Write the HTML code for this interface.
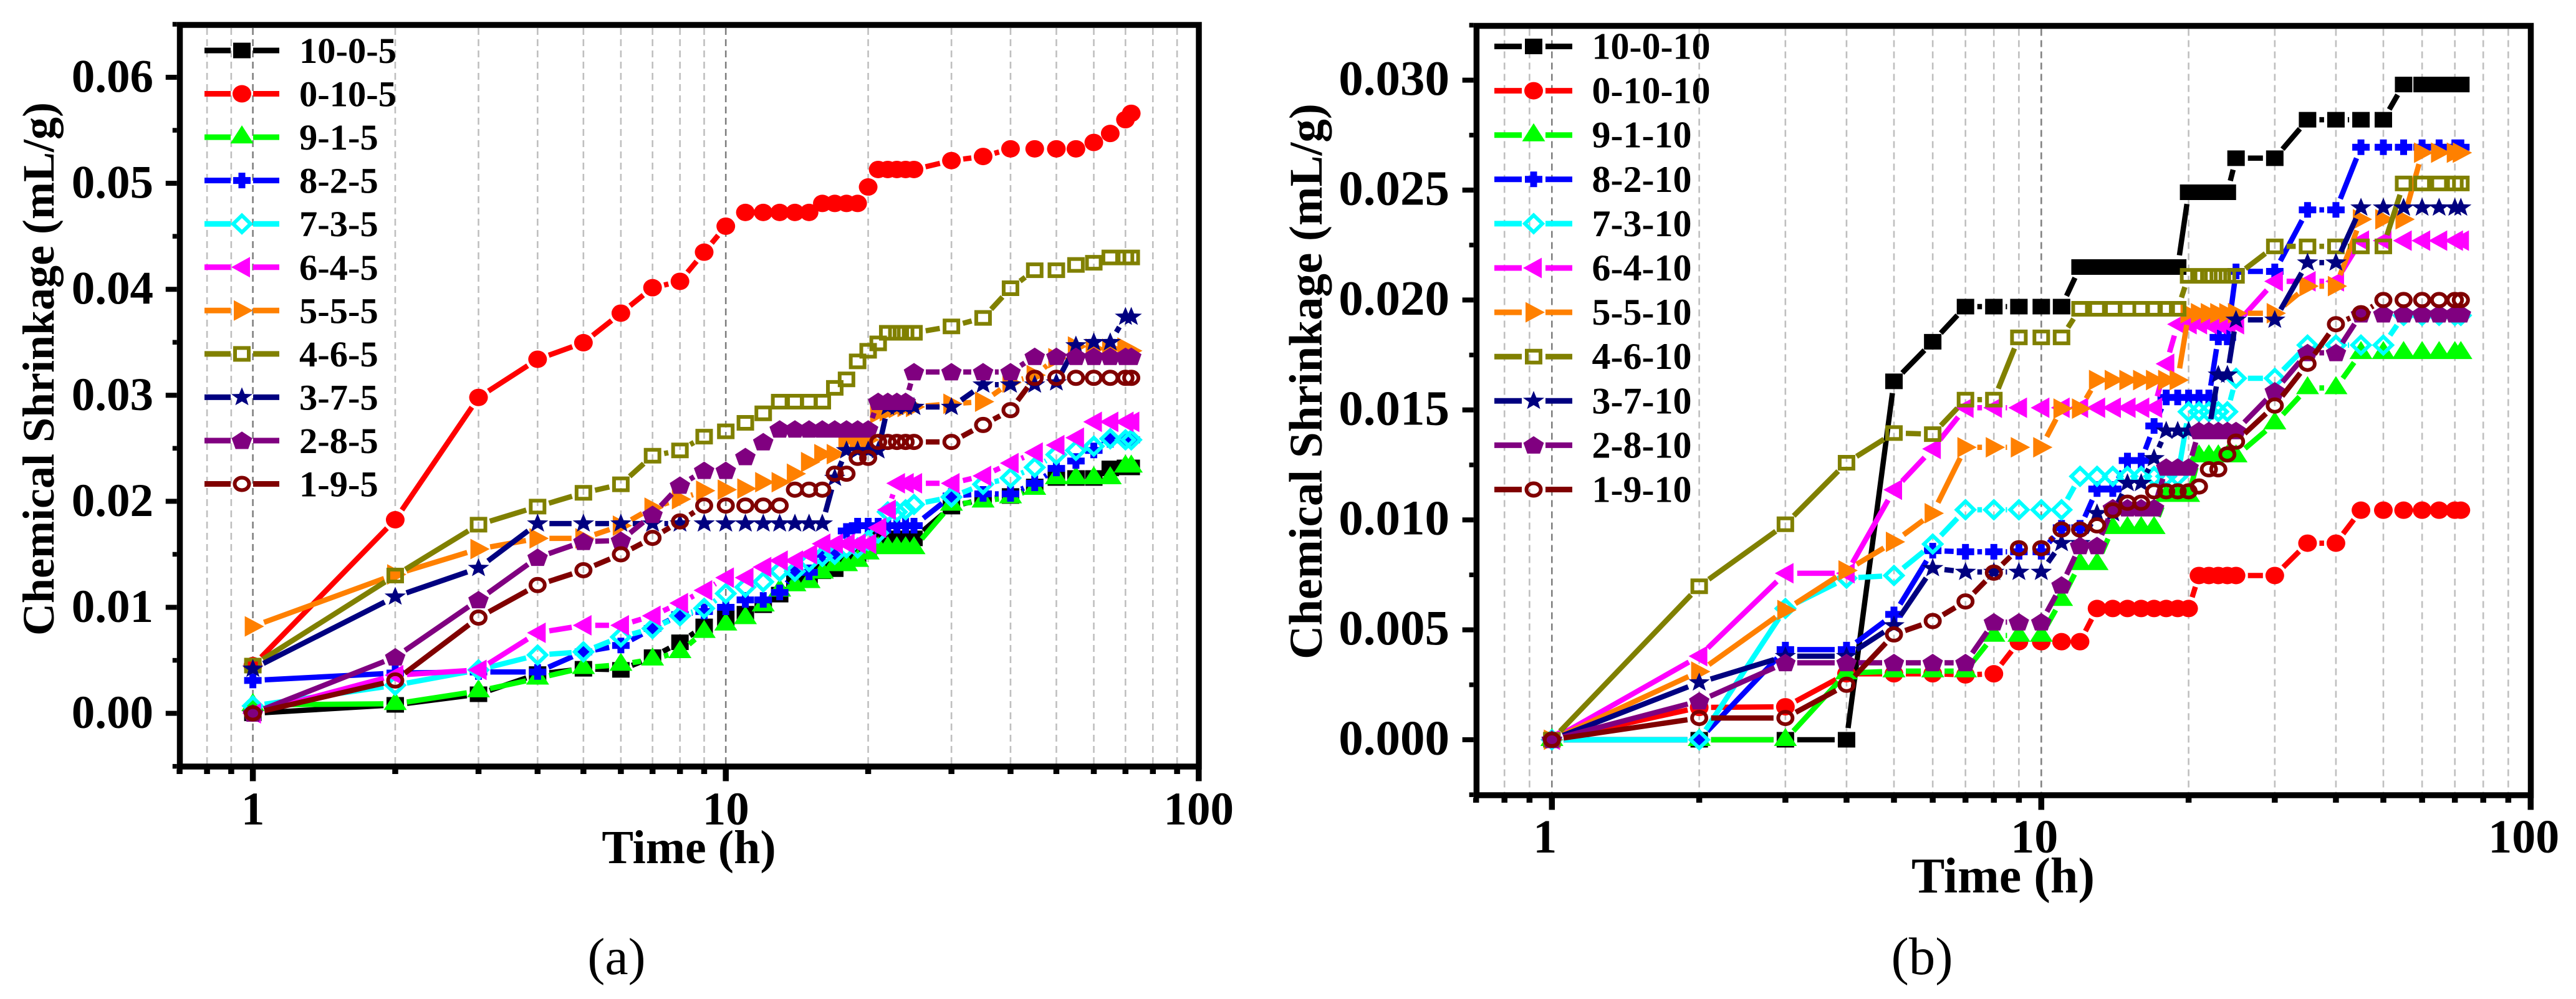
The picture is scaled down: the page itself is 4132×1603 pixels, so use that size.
<!DOCTYPE html>
<html lang="en">
<head>
<meta charset="utf-8">
<title>Chemical Shrinkage Charts</title>
<style>
html,body{margin:0;padding:0;background:#fff;}
svg{display:block;}
text{font-family:"Liberation Serif","Times New Roman",serif;fill:#000;}
.b{font-weight:bold;}
</style>
</head>
<body>
<svg id="figure" xmlns="http://www.w3.org/2000/svg" width="4132" height="1603" viewBox="0 0 4132 1603"></svg>
<script>
/* ---------- shared sampling times (h) ---------- */
const times = [1,2,3,4,5,6,7,8,9,10,11,12,13,14,15,16,17,18,19,20,21,22,23,24,25,30,35,40,45,50,55,60,65,70,72];

/* ---------- panel (a) series values (mL/g) ---------- */
const a_10_0_5 = [0,.0008,.0018,.0037,.0042,.0041,.0053,.0067,.0082,.0090,.0094,.0102,.0112,.0126,.0126,.0134,.0136,.0142,.0150,.0155,.0165,.0165,.0165,.0165,.0165,.0195,.0202,.0205,.0214,.0222,.0222,.0222,.0231,.0232,.0232];
const a_0_10_5 = [.0045,.01826,.0298,.0334,.03496,.03775,.04015,.04075,.0435,.04595,.04725,.04725,.04725,.04725,.04725,.0481,.0481,.0481,.0481,.04965,.0513,.0513,.0513,.0513,.0513,.05214,.05253,.05325,.05325,.05325,.05325,.05385,.0547,.056,.0566];
const a_9_1_5 = [.0008,.0009,.0021,.0033,.0043,.0046,.0051,.0058,.0077,.0084,.009,.0102,.0116,.0121,.0124,.0133,.014,.014,.0144,.0151,.0156,.0156,.0156,.0156,.0156,.0197,.02,.0204,.0212,.0222,.0222,.0222,.0222,.0233,.0233];
const a_8_2_5 = [.0031,.0038,.0039,.0039,.0058,.0064,.008,.0093,.0096,.01,.0107,.0107,.0114,.0133,.0133,.015,.015,.0172,.0177,.0177,.0177,.0177,.0177,.0177,.0177,.0205,.0207,.0207,.0217,.0231,.0238,.0248,.0258,.0258,.0258];
const a_7_3_5 = [.0007,.00265,.0041,.0055,.0058,.0072,.008,.0092,.0099,.0113,.0119,.0124,.0134,.0134,.0143,.0148,.015,.0156,.0156,.0163,.017,.019,.019,.0192,.0197,.0204,.0216,.0222,.0232,.0244,.0248,.0252,.0259,.0258,.0258];
const a_6_4_5 = [0,.0036,.0041,.0076,.0083,.0083,.0092,.0104,.0116,.0128,.0128,.0138,.0144,.0144,.015,.016,.016,.016,.016,.016,.0175,.0192,.0217,.0217,.0217,.0217,.0224,.0236,.0246,.0253,.026,.0275,.0275,.0275,.0275];
const a_5_5_5 = [.0082,.0131,.0155,.0165,.0165,.0177,.0194,.0202,.021,.0211,.0212,.0218,.0218,.0226,.0237,.02445,.02445,.0258,.0258,.0258,.0283,.0285,.0288,.0289,.0289,.0292,.0294,.0312,.0319,.0335,.0346,.0344,.0344,.0345,.0342];
const a_4_6_5 = [.0045,.013,.0178,.0195,.0208,.0216,.0243,.0248,.0261,.0266,.0274,.0283,.0294,.0294,.0294,.0294,.0307,.0315,.0332,.0342,.0349,.0359,.0359,.0359,.0359,.0365,.0373,.0401,.0418,.0418,.0423,.0425,.043,.043,.043];
const a_3_7_5 = [.0042,.011,.0137,.0179,.0179,.0179,.0179,.0179,.0179,.0179,.0179,.0179,.0179,.0179,.0179,.0179,.0222,.0248,.0248,.0248,.0248,.0289,.0289,.0289,.0289,.0289,.031,.031,.031,.0312,.0347,.035,.035,.0374,.0374];
const a_2_8_5 = [0,.0053,.0107,.0147,.0162,.0163,.01875,.0215,.0229,.0229,.0242,.0256,.0268,.0268,.0268,.0268,.0268,.0268,.0268,.0268,.0294,.0294,.0294,.0294,.0322,.0322,.0322,.0322,.03365,.03365,.03365,.03365,.03365,.03365,.03365];
const a_1_9_5 = [0,.0031,.00903,.0121,.0135,.015,.01655,.0181,.0196,.0196,.0196,.0196,.0196,.0211,.0211,.0211,.0226,.0226,.0241,.0241,.0256,.0256,.0256,.0256,.0256,.0256,.0272,.0286,.03165,.03165,.03165,.03165,.03165,.03165,.03165];

/* ---------- panel (b) series values (mL/g) ---------- */
const b_10_0_10 = [0,0,0,0,.0163,.0181,.0197,.0197,.0197,.0197,.0197,.0215,.0215,.0215,.0215,.0215,.0215,.0215,.0215,.0249,.0249,.0249,.0249,.0249,.02645,.02645,.0282,.0282,.0282,.0282,.0298,.0298,.0298,.0298,.0298];
const b_0_10_10 = [0,.00147,.0015,.003,.003,.003,.00295,.003,.00446,.00446,.00446,.00446,.00597,.00597,.00597,.00597,.00597,.00597,.00597,.00597,.00747,.00747,.00747,.00747,.00747,.00747,.00894,.00894,.01044,.01044,.01044,.01044,.01044,.01044,.01044];
const b_9_1_10 = [0,0,0,.00303,.00312,.00312,.00312,.00474,.00474,.00474,.00637,.008,.008,.00964,.00964,.00964,.00964,.0111,.0111,.0111,.0129,.0129,.0129,.0129,.0129,.0144,.016,.016,.0176,.0176,.0176,.0176,.0176,.0176,.0176];
const b_8_2_10 = [0,0,.0041,.0041,.0057,.0086,.00855,.00855,.00855,.00855,.00964,.00964,.0114,.0114,.0127,.0127,.01427,.01557,.01557,.01557,.01557,.01557,.0183,.0183,.0213,.0213,.0241,.0241,.02695,.02695,.02695,.02695,.02695,.02695,.02695];
const b_7_3_10 = [0,0,.00597,.00735,.00747,.0089,.01046,.01046,.01046,.01046,.01046,.01198,.01198,.01198,.01198,.01198,.01198,.01198,.01198,.01492,.01492,.01492,.01492,.01492,.01644,.01644,.01795,.01795,.01795,.01795,.0193,.0193,.0193,.0193,.0193];
const b_6_4_10 = [0,.0038,.00757,.00757,.01137,.01323,.0151,.0151,.0151,.0151,.0151,.0151,.0151,.0151,.0151,.0151,.0151,.0171,.0189,.0189,.0189,.0189,.0189,.0189,.0189,.02085,.02085,.02085,.0227,.0227,.0227,.0227,.0227,.0227,.0227];
const b_5_5_10 = [0,.0031,.0059,.0077,.009,.0103,.0133,.0133,.0133,.0133,.01506,.01506,.01636,.01636,.01636,.01636,.01636,.01636,.01636,.0194,.0194,.0194,.0194,.0194,.0194,.0194,.02063,.02063,.02367,.02367,.02367,.0267,.0267,.0267,.0267];
const b_4_6_10 = [0,.00698,.0098,.0126,.01395,.0139,.01547,.01547,.0183,.0183,.0183,.0196,.0196,.0196,.0196,.0196,.0196,.0196,.0196,.0211,.0211,.0211,.0211,.0211,.0211,.02244,.02244,.02244,.02244,.02244,.0253,.0253,.0253,.0253,.0253];
const b_3_7_10 = [0,.0026,.0038,.0038,.0052,.0078,.00763,.00763,.00763,.00763,.00894,.00894,.0103,.0103,.01167,.01167,.0128,.01405,.01405,.01405,.01405,.01405,.0166,.0166,.0191,.0191,.0217,.0217,.0242,.0242,.0242,.0242,.0242,.0242,.0242];
const b_2_8_10 = [0,.00176,.0035,.0035,.0035,.0035,.0035,.00535,.00535,.00535,.00703,.00882,.00882,.01054,.01054,.01054,.01054,.01239,.01239,.01239,.01405,.01405,.01405,.01405,.01405,.01586,.0176,.0176,.01936,.01936,.01936,.01936,.01936,.01936,.01936];
const b_1_9_10 = [0,.00099,.00099,.0025,.00479,.0054,.00629,.0076,.00871,.00871,.00956,.00956,.00975,.01043,.01078,.01078,.0113,.0113,.0113,.0113,.01152,.0123,.0123,.01298,.01356,.0152,.0171,.0189,.0194,.02,.02,.02,.02,.02,.02];

/* ---------- categories and tick labels ---------- */
const labelsA = ['10-0-5','0-10-5','9-1-5','8-2-5','7-3-5','6-4-5','5-5-5','4-6-5','3-7-5','2-8-5','1-9-5'];
const labelsB = ['10-0-10','0-10-10','9-1-10','8-2-10','7-3-10','6-4-10','5-5-10','4-6-10','3-7-10','2-8-10','1-9-10'];
const xTickMajor = [1,10,100];
const xTickMinor = [0.7,0.8,0.9,2,3,4,5,6,7,8,9,20,30,40,50,60,70,80,90];
const yTicksA = [0,0.01,0.02,0.03,0.04,0.05,0.06];
const yMinorA = [-0.005,0.005,0.015,0.025,0.035,0.045,0.055,0.065];
const yTickLabelsA = ['0.00','0.01','0.02','0.03','0.04','0.05','0.06'];
const yTicksB = [0,0.005,0.01,0.015,0.02,0.025,0.03];
const yMinorB = [-0.0025,0.0025,0.0075,0.0125,0.0175,0.0225,0.0275,0.0325];
const yTickLabelsB = ['0.000','0.005','0.010','0.015','0.020','0.025','0.030'];

const seriesA = [a_10_0_5,a_0_10_5,a_9_1_5,a_8_2_5,a_7_3_5,a_6_4_5,a_5_5_5,a_4_6_5,a_3_7_5,a_2_8_5,a_1_9_5];
const seriesB = [b_10_0_10,b_0_10_10,b_9_1_10,b_8_2_10,b_7_3_10,b_6_4_10,b_5_5_10,b_4_6_10,b_3_7_10,b_2_8_10,b_1_9_10];

/* ---------- styling ---------- */
const colors = ['#000000','#ff0000','#00ff00','#0000ff','#00ffff','#ff00ff','#ff8000','#808000','#000080','#800080','#800000'];
const shapes = ['square','circle','tri','plus','diamond','left','right','hsquare','star','pentagon','hcircle'];
const hollow = {diamond:1,hsquare:1,hcircle:1};
const SVGNS = 'http://www.w3.org/2000/svg';
const root = document.getElementById('figure');

function mk(parent, tag, attrs){
  const e = document.createElementNS(SVGNS, tag);
  for(const k in attrs) e.setAttribute(k, attrs[k]);
  parent.appendChild(e);
  return e;
}
function polar(cx,cy,rx,ry,n,inner){
  const pts=[];
  const count = inner ? n*2 : n;
  for(let i=0;i<count;i++){
    const a=-Math.PI/2+i*2*Math.PI/count;
    const f=(inner && i%2)?inner:1;
    pts.push((cx+rx*f*Math.cos(a)).toFixed(1)+' '+(cy+ry*f*Math.sin(a)).toFixed(1));
  }
  return 'M'+pts.join('L')+'Z';
}
function ellipsePath(x,y,rx,ry){
  return 'M'+(x-rx)+' '+y+'A'+rx+' '+ry+' 0 1 0 '+(x+rx)+' '+y+'A'+rx+' '+ry+' 0 1 0 '+(x-rx)+' '+y+'Z';
}
function markerPath(s,x,y){
  switch(s){
    case 'square': return 'M'+(x-14)+' '+(y-12.5)+'h28v25h-28Z';
    case 'circle': return ellipsePath(x,y,15,14);
    case 'tri': return 'M'+x+' '+(y-19)+'L'+(x+18.5)+' '+(y+10)+'L'+(x-18.5)+' '+(y+10)+'Z';
    case 'plus': return 'M'+(x-5.5)+' '+(y-12.5)+'h11v7h8.5v11h-8.5v7h-11v-7h-8.5v-11h8.5Z';
    case 'diamond': return 'M'+x+' '+(y-13.5)+'L'+(x+14)+' '+y+'L'+x+' '+(y+13.5)+'L'+(x-14)+' '+y+'Z';
    case 'left': return 'M'+(x-17)+' '+y+'L'+(x+13)+' '+(y-16.5)+'V'+(y+16.5)+'Z';
    case 'right': return 'M'+(x+18)+' '+y+'L'+(x-13)+' '+(y-16.5)+'V'+(y+16.5)+'Z';
    case 'hsquare': return 'M'+(x-11)+' '+(y-9.5)+'h22v19h-22Z';
    case 'star': return polar(x,y,18,16,5,0.42);
    case 'pentagon': return polar(x,y+1,17.3,15.5,5,0);
    case 'hcircle': return ellipsePath(x,y,11.5,10);
  }
}
const GAP = 19;
function linePath(pts){
  let d='';
  for(let i=0;i<pts.length-1;i++){
    const p=pts[i], q=pts[i+1];
    const dx=q[0]-p[0], dy=q[1]-p[1], L=Math.hypot(dx,dy);
    if(L<=2*GAP+1) continue;
    const ux=dx/L, uy=dy/L;
    d+='M'+(p[0]+ux*GAP).toFixed(1)+' '+(p[1]+uy*GAP).toFixed(1)+'L'+(q[0]-ux*GAP).toFixed(1)+' '+(q[1]-uy*GAP).toFixed(1);
  }
  return d;
}

function drawPanel(cfg){
  const g = mk(root,'g',{});
  
  
  const X = t => cfg.x1 + cfg.decade*Math.log10(t);
  const Y = v => cfg.y0 - cfg.perUnit*v;

  /* grid */
  const grid = mk(g,'g',{});
  
  
  xTickMajor.concat(xTickMinor).forEach(t=>{
    if(t===0.7||t===100) return;
    const dark=(t===1||t===10);
    const ln=mk(grid,'line',{x1:X(t),x2:X(t),y1:cfg.top+5,y2:cfg.bottom-4,stroke:dark?'#808080':'#bfbfbf','stroke-width':2.6,'stroke-dasharray':'11 7'});
    
    
  });

  /* series */
  cfg.series.forEach((vals,i)=>{
    const sg = mk(g,'g',{});
    
    
    const pts = times.map((t,k)=>[X(t),Y(vals[k])]);
    mk(sg,'path',{d:linePath(pts),fill:'none',stroke:colors[i],'stroke-width':8.5});
    const s=shapes[i];
    let d='';
    pts.forEach(p=>{d+=markerPath(s,p[0],p[1]);});
    if(hollow[s]) mk(sg,'path',{d:d,fill:'none',stroke:colors[i],'stroke-width':6});
    else mk(sg,'path',{d:d,fill:colors[i]});
  });

  /* frame */
  const frame = mk(g,'rect',{x:cfg.left,y:cfg.top,width:cfg.right-cfg.left,height:cfg.bottom-cfg.top,fill:'none',stroke:'#000','stroke-width':9.5});
  
  

  /* y ticks */
  const yAxis = mk(g,'g',{});
  
  
  const edgeL = cfg.left-4.75;
  cfg.yTicks.forEach((v,i)=>{
    mk(yAxis,'line',{x1:edgeL-18,x2:edgeL,y1:Y(v),y2:Y(v),stroke:'#000','stroke-width':8});
    const t = mk(yAxis,'text',{x:cfg.yLabelX,y:Y(v)+23.5,'text-anchor':'end','font-size':cfg.yFont,'class':'b'});
    
    
    t.textContent = cfg.yTickLabels[i];
  });
  cfg.yMinor.forEach(v=>{
    mk(yAxis,'line',{x1:edgeL-7,x2:edgeL,y1:Y(v),y2:Y(v),stroke:'#000','stroke-width':7.5});
  });
  const yt = mk(yAxis,'text',{transform:'translate('+cfg.yTitleX+' '+cfg.yTitleY+') rotate(-90)','text-anchor':'middle','font-size':cfg.yTitleFont,'class':'b'});
  
  
  yt.textContent = 'Chemical Shrinkage (mL/g)';

  /* x ticks */
  const xAxis = mk(g,'g',{});
  
  
  const edgeB = cfg.bottom+4.5;
  xTickMajor.forEach(t=>{
    mk(xAxis,'line',{x1:X(t),x2:X(t),y1:edgeB,y2:edgeB+19,stroke:'#000','stroke-width':9.5});
    const tx = mk(xAxis,'text',{x:X(t)+cfg.xLabelShift,y:cfg.xLabelY,'text-anchor':'middle','font-size':cfg.xFont,'class':'b'});
    
    
    tx.textContent = String(t);
  });
  xTickMinor.forEach(t=>{
    mk(xAxis,'line',{x1:X(t),x2:X(t),y1:edgeB,y2:edgeB+7.5,stroke:'#000','stroke-width':9.5});
  });
  const xt = mk(xAxis,'text',{x:cfg.xTitleX,y:cfg.xTitleY,'text-anchor':'middle','font-size':cfg.xTitleFont,'class':'b'});
  
  
  xt.textContent = 'Time (h)';

  /* legend */
  const lg = mk(g,'g',{});
  
  
  cfg.labels.forEach((lab,i)=>{
    const ry = cfg.legY + i*cfg.legStep;
    const en = mk(lg,'g',{});
    
    
    const cx = cfg.legCx;
    const gp = cfg.legGap;
    mk(en,'path',{d:'M'+cfg.legL+' '+ry+'H'+(cx-gp)+'M'+(cx+gp)+' '+ry+'H'+cfg.legR,stroke:colors[i],'stroke-width':9,fill:'none'});
    const s=shapes[i];
    if(hollow[s]) mk(en,'path',{d:markerPath(s,cx,ry),fill:'none',stroke:colors[i],'stroke-width':6});
    else mk(en,'path',{d:markerPath(s,cx,ry),fill:colors[i]});
    const tt = mk(en,'text',{x:cfg.legTextX,y:ry+20,'font-size':cfg.legFont,'class':'b'});
    
    
    tt.textContent = lab;
  });

  /* caption */
  const cap = mk(g,'text',{x:cfg.capX,y:cfg.capY,'text-anchor':'middle','font-size':cfg.capFont});
  
  
  cap.textContent = cfg.caption;
}

drawPanel({
  id:'panel-a', caption:'(a)', series:seriesA, labels:labelsA,
  x1:405.6, decade:758.6, y0:1144.6, perUnit:17010,
  left:288.5, right:1923, top:40, bottom:1230,
  yTicks:yTicksA, yMinor:yMinorA, yTickLabels:yTickLabelsA,
  yLabelX:246, yFont:75, xFont:75, xLabelY:1323, xLabelShift:0,
  yTitleX:86, yTitleY:592, yTitleFont:72,
  xTitleX:1105, xTitleY:1385, xTitleFont:76,
  legY:81, legStep:69.55, legL:328, legR:448, legCx:388, legGap:18, legTextX:480, legFont:58.5,
  capX:989, capY:1563, capFont:84
});
drawPanel({
  id:'panel-b', caption:'(b)', series:seriesB, labels:labelsB,
  x1:2489.3, decade:785, y0:1187, perUnit:35280,
  left:2368.4, right:4059.5, top:41.5, bottom:1276,
  yTicks:yTicksB, yMinor:yMinorB, yTickLabels:yTickLabelsB,
  yLabelX:2325, yFont:79, xFont:76, xLabelY:1368, xLabelShift:-11,
  yTitleX:2120, yTitleY:612, yTitleFont:75,
  xTitleX:3213, xTitleY:1432, xTitleFont:80,
  legY:74.5, legStep:71.1, legL:2397, legR:2522, legCx:2460, legGap:19, legTextX:2553.5, legFont:60,
  capX:3083, capY:1563, capFont:85
});
</script>
</body>
</html>
